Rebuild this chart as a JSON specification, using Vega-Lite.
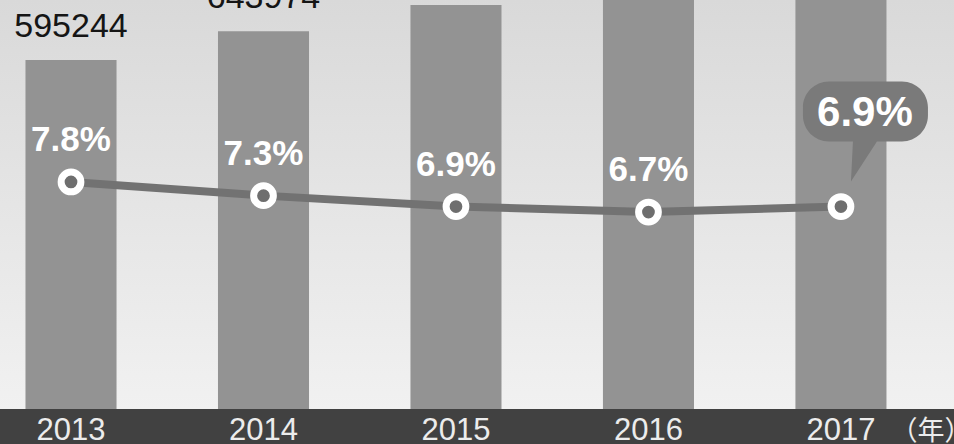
{
  "$schema": "https://vega.github.io/schema/vega-lite/v6.json",
  "width": 954,
  "height": 409,
  "padding": {"left": 0, "top": 0, "right": 0, "bottom": 35},
  "autosize": "none",
  "background": "#e4e4e4",
  "config": {"view": {"stroke": null}},
  "data": {"values": [
    {"year": "2013", "gdp": 595244, "growth": 0.078},
    {"year": "2014", "gdp": 643974, "growth": 0.073},
    {"year": "2015", "gdp": 689052, "growth": 0.069},
    {"year": "2016", "gdp": 744127, "growth": 0.067},
    {"year": "2017", "gdp": 827122, "growth": 0.069}
  ]},
  "layer": [
    {
      "data": {"values": [{}]},
      "mark": {"type": "rect", "color": {"gradient": "linear", "x1": 0, "y1": 0, "x2": 0, "y2": 1, "stops": [{"offset": 0, "color": "#d9d9d9"}, {"offset": 1, "color": "#f1f1f1"}]}},
      "encoding": {}
    },
    {
      "data": {"values": [{}]},
      "mark": {"type": "rect", "color": "#414141"},
      "encoding": {
        "y": {"datum": 0, "type": "quantitative", "scale": {"domain": [0, 697436], "nice": false, "zero": false}, "axis": null},
        "y2": {"datum": -60000}
      }
    },
    {
      "mark": {"type": "bar", "color": "#939393"},
      "encoding": {
        "x": {"field": "year", "type": "nominal", "sort": null,
          "scale": {"paddingInner": 0.527, "paddingOuter": 0.2416, "align": 0.274},
          "axis": {"title": "（年）", "zindex": 1, "domain": false, "ticks": false, "labelAngle": 0, "labelFont": "Liberation Sans", "labelFontSize": 31, "labelColor": "#ececec", "labelPadding": 6, "titleFont": "Noto Sans CJK SC", "titleFontSize": 27, "titleColor": "#ececec", "titleFontWeight": "normal", "titleX": 890, "titleY": 9, "titleAlign": "left", "titleBaseline": "top", "titleAngle": 0}},
        "y": {"field": "gdp", "type": "quantitative", "scale": {"domain": [0, 697436], "nice": false, "zero": false}, "axis": null}
      }
    },
    {
      "mark": {"type": "text", "font": "Liberation Sans", "fontSize": 34, "color": "#151515", "baseline": "alphabetic", "dy": -23},
      "encoding": {
        "x": {"field": "year", "type": "nominal", "sort": null},
        "y": {"field": "gdp", "type": "quantitative", "scale": {"domain": [0, 697436], "nice": false, "zero": false}, "axis": null},
        "text": {"field": "gdp", "type": "quantitative", "format": "d"}
      }
    },
    {
      "mark": {"type": "line", "stroke": "#727272", "strokeWidth": 8},
      "encoding": {
        "x": {"field": "year", "type": "nominal", "sort": null},
        "y": {"field": "growth", "type": "quantitative", "scale": {"domain": [-0.0052, 0.1447], "nice": false, "zero": false}, "axis": null}
      }
    },
    {
      "transform": [{"filter": "datum.year == '2017'"}],
      "mark": {"type": "point", "shape": "M -12 -125 L 61 -125 A 26 26 0 0 1 87 -99 L 87 -91 A 26 26 0 0 1 61 -65 L 36 -65 L 10 -25 L 12 -65 L -12 -65 A 26 26 0 0 1 -38 -91 L -38 -99 A 26 26 0 0 1 -12 -125 Z", "size": 4, "filled": true, "fill": "#7a7a7a", "opacity": 1, "strokeWidth": 0},
      "encoding": {
        "x": {"field": "year", "type": "nominal", "sort": null},
        "y": {"field": "growth", "type": "quantitative", "scale": {"domain": [-0.0052, 0.1447], "nice": false, "zero": false}, "axis": null}
      }
    },
    {
      "mark": {"type": "point", "filled": true, "fill": "#6e6e6e", "stroke": "#ffffff", "strokeWidth": 7, "size": 390, "opacity": 1},
      "encoding": {
        "x": {"field": "year", "type": "nominal", "sort": null},
        "y": {"field": "growth", "type": "quantitative", "scale": {"domain": [-0.0052, 0.1447], "nice": false, "zero": false}, "axis": null}
      }
    },
    {
      "transform": [{"filter": "datum.year != '2017'"}],
      "mark": {"type": "text", "font": "Liberation Sans", "fontWeight": "bold", "fontSize": 35, "color": "#ffffff", "baseline": "middle", "dy": -42},
      "encoding": {
        "x": {"field": "year", "type": "nominal", "sort": null},
        "y": {"field": "growth", "type": "quantitative", "scale": {"domain": [-0.0052, 0.1447], "nice": false, "zero": false}, "axis": null},
        "text": {"field": "growth", "type": "quantitative", "format": ".1%"}
      }
    },
    {
      "transform": [{"filter": "datum.year == '2017'"}],
      "mark": {"type": "text", "font": "Liberation Sans", "fontWeight": "bold", "fontSize": 42, "color": "#ffffff", "baseline": "middle", "dx": 24, "dy": -94},
      "encoding": {
        "x": {"field": "year", "type": "nominal", "sort": null},
        "y": {"field": "growth", "type": "quantitative", "scale": {"domain": [-0.0052, 0.1447], "nice": false, "zero": false}, "axis": null},
        "text": {"field": "growth", "type": "quantitative", "format": ".1%"}
      }
    }
  ],
  "resolve": {"scale": {"y": "independent"}}
}
